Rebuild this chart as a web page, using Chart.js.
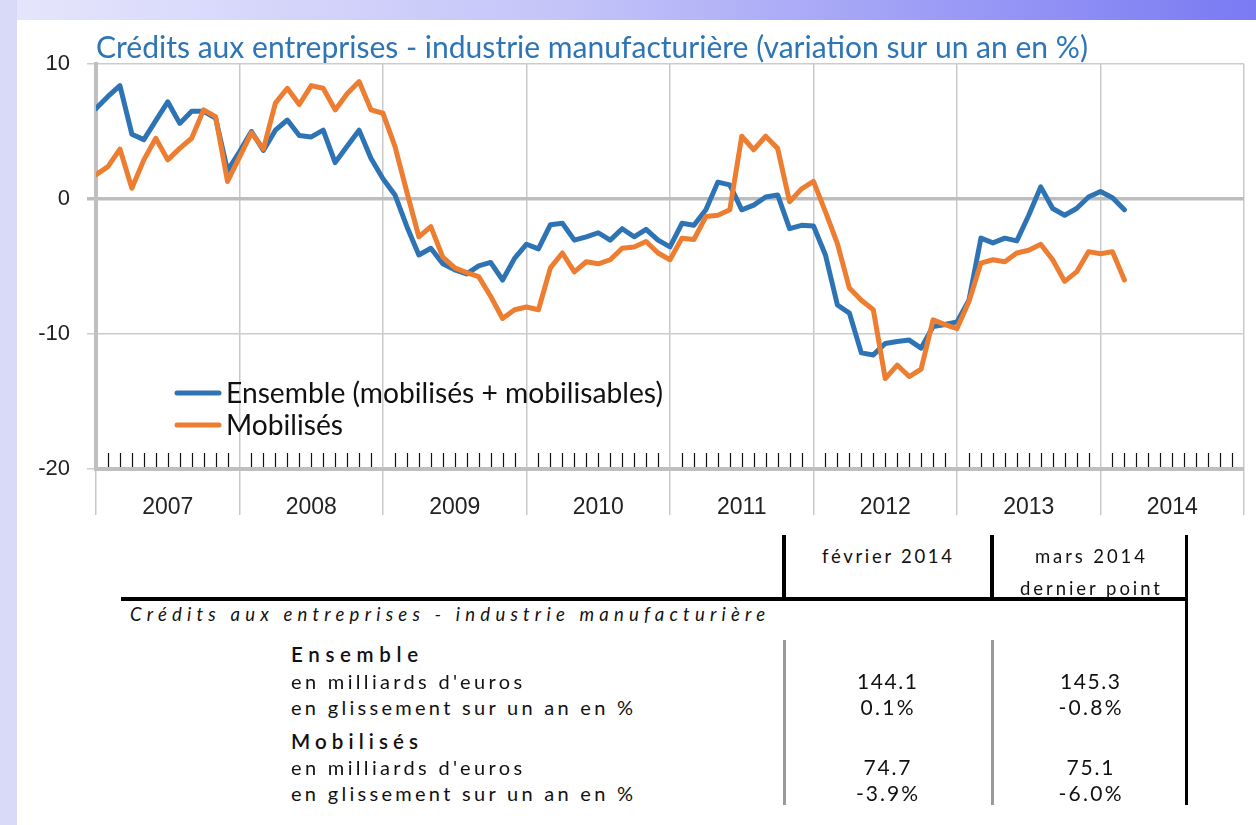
<!DOCTYPE html>
<html><head><meta charset="utf-8">
<script src="https://cdn.jsdelivr.net/npm/chart.js@4.4.1/dist/chart.umd.min.js"></script>
<style>
html,body{margin:0;padding:0;background:#fff;width:1256px;height:825px;overflow:hidden;position:relative;}
#topband{position:absolute;left:0;top:0;width:1256px;height:20px;background:linear-gradient(90deg,#e6e6fc 0%,#c4c4f9 45%,#7a7af3 100%);}
#leftband{position:absolute;left:0;top:0;width:17px;height:825px;background:#d9d9f8;}
#c{position:absolute;left:0;top:0;}
.t{position:absolute;white-space:nowrap;font-family:Lato,"Open Sans",sans-serif;color:#111;line-height:22px;height:22px;}
.ln{position:absolute;}
</style></head><body>
<div id="topband"></div><div id="leftband"></div>
<canvas id="c" width="1256" height="540"></canvas>
<div id="tbl"></div>
<script>
// ---------- data ----------
const chartTitle = "Crédits aux entreprises - industrie manufacturière (variation sur un an en %)";
const years = ["2007","2008","2009","2010","2011","2012","2013","2014"];
const seriesNames = ["Ensemble (mobilisés + mobilisables)", "Mobilisés"];
// monthly values, Jan 2007 .. Mar 2014
const ensemble = [
 6.7, 7.6, 8.4, 4.8, 4.4, 5.8, 7.2, 5.6, 6.5, 6.5, 6.0, 2.1,
 3.5, 5.0, 3.6, 5.1, 5.85, 4.7, 4.6, 5.1, 2.7, 3.9, 5.1, 3.0,
 1.5, 0.3, -2.05, -4.15, -3.65, -4.8, -5.25, -5.55, -4.95, -4.7, -6.0, -4.4,
 -3.35, -3.7, -1.9, -1.8, -3.05, -2.8, -2.5, -3.05, -2.2, -2.8, -2.25, -3.05,
 -3.55, -1.8, -1.95, -0.8, 1.25, 1.05, -0.8, -0.45, 0.15, 0.3, -2.2, -1.95,
 -2.0, -4.15, -7.85, -8.45, -11.4, -11.55, -10.7, -10.55, -10.45, -11.05, -9.45, -9.3,
 -9.1, -7.5, -2.9, -3.25, -2.9, -3.1, -1.2, 0.9, -0.7, -1.2, -0.7, 0.15,
 0.55, 0.1, -0.8
];
const mobilises = [
 1.8, 2.4, 3.7, 0.8, 2.9, 4.5, 2.9, 3.75, 4.5, 6.6, 6.1, 1.3,
 3.1, 4.9, 3.7, 7.1, 8.2, 7.0, 8.4, 8.2, 6.6, 7.8, 8.7, 6.6,
 6.35, 3.9, 0.5, -2.8, -2.05, -4.3, -5.1, -5.45, -5.75, -7.2, -8.85, -8.2,
 -8.0, -8.2, -5.1, -4.0, -5.4, -4.65, -4.8, -4.5, -3.65, -3.55, -3.15, -4.0,
 -4.5, -2.9, -3.0, -1.3, -1.2, -0.8, 4.65, 3.65, 4.65, 3.75, -0.2, 0.75,
 1.3, -0.95, -3.3, -6.6, -7.5, -8.2, -13.3, -12.3, -13.15, -12.6, -8.95, -9.3,
 -9.6, -7.6, -4.75, -4.5, -4.65, -4.0, -3.8, -3.35, -4.5, -6.1, -5.4, -3.9,
 -4.05, -3.9, -6.0
];
const yMin = -20, yMax = 10, yStep = 10;
const monthsShown = 96; // 8 years on the axis

// table
const tableTitle = "Crédits aux entreprises - industrie manufacturière";
const colHeaders = ["février 2014", "mars 2014", "dernier point"];
const rowLabels = ["Ensemble", "en milliards d'euros", "en glissement sur un an en %", "Mobilisés", "en milliards d'euros", "en glissement sur un an en %"];
const febValues = ["", "144.1", "0.1%", "", "74.7", "-3.9%"];
const marValues = ["", "145.3", "-0.8%", "", "75.1", "-6.0%"];

// ---------- chart ----------
const BLUE = '#2E74B5', ORANGE = '#ED7D31';
const axisFont = '"Liberation Sans", Arial, sans-serif';

const minorTicks = {
  id: 'minorTicks',
  beforeDatasetsDraw(chart) {
    const x = chart.scales.x, y = chart.scales.y, ctx = chart.ctx;
    const yb = y.getPixelForValue(yMin);
    ctx.save();
    ctx.strokeStyle = '#111'; ctx.lineWidth = 1.2;
    for (let m = 1; m < monthsShown; m++) {
      if (m % 12 === 0) continue;
      const px = Math.round(x.getPixelForValue(m)) + 0.5;
      ctx.beginPath(); ctx.moveTo(px, yb - 2); ctx.lineTo(px, yb - 16); ctx.stroke();
    }
    ctx.restore();
  }
};

const textDeco = {
  id: 'textDeco',
  afterDraw(chart) {
    const ctx = chart.ctx, area = chart.chartArea;
    ctx.save();
    // title
    ctx.font = '24px Lato';
    let w = ctx.measureText(chartTitle).width;
    let size = 24 * 992 / w;
    ctx.font = size.toFixed(2) + 'px Lato';
    ctx.fillStyle = '#2E75B6';
    ctx.textBaseline = 'middle'; ctx.textAlign = 'left';
    ctx.fillText(chartTitle, area.left, 48);
    // legend
    ctx.font = '23px Lato';
    w = ctx.measureText(seriesNames[0]).width;
    size = 23 * 437 / w;
    ctx.font = size.toFixed(2) + 'px Lato';
    const rows = [393, 425];
    chart.data.datasets.forEach((ds, i) => {
      const yy = rows[i];
      ctx.strokeStyle = ds.borderColor; ctx.lineWidth = 5; ctx.lineCap = 'round';
      ctx.beginPath(); ctx.moveTo(177, yy); ctx.lineTo(219, yy); ctx.stroke();
      ctx.fillStyle = '#111';
      ctx.fillText(ds.label, 226, yy + 1);
    });
    ctx.restore();
  }
};

new Chart(document.getElementById('c'), {
  type: 'line',
  data: {
    datasets: [
      { label: seriesNames[0], data: ensemble.map((v, i) => ({ x: i, y: v })), borderColor: BLUE, borderWidth: 5,
        pointRadius: 0, tension: 0, borderJoinStyle: 'round', borderCapStyle: 'round', fill: false, order: 1 },
      { label: seriesNames[1], data: mobilises.map((v, i) => ({ x: i, y: v })), borderColor: ORANGE, borderWidth: 5,
        pointRadius: 0, tension: 0, borderJoinStyle: 'round', borderCapStyle: 'round', fill: false, order: 0 }
    ]
  },
  options: {
    responsive: false, animation: false, devicePixelRatio: 1,
    layout: { padding: { top: 64, right: 12, left: 0, bottom: 0 } },
    plugins: { legend: { display: false }, tooltip: { enabled: false }, title: { display: false } },
    scales: {
      x: { type: 'linear', min: 0, max: monthsShown, display: false },
      years: {
        type: 'category', labels: years, offset: true, position: 'bottom',
        grid: { offset: true, color: '#c9c9c9', lineWidth: 1.5, drawOnChartArea: true, drawTicks: true, tickLength: 46, tickColor: '#c9c9c9' },
        border: { display: true, color: '#bfbfbf', width: 4 },
        ticks: { font: { family: axisFont, size: 23 }, color: '#222', padding: -21, maxRotation: 0, autoSkip: false },
        afterFit(s) { s.height = 71; }
      },
      y: {
        min: yMin, max: yMax,
        ticks: { stepSize: yStep, font: { family: axisFont, size: 22 }, color: '#222', padding: 17 },
        grid: {
          color: c => (c.tick && c.tick.value === 0) ? '#bdbdbd' : '#cccccc',
          lineWidth: c => (c.tick && c.tick.value === 0) ? 3.5 : 1.5,
          tickLength: 9, drawTicks: true
        },
        border: { display: true, color: '#bfbfbf', width: 4 },
        afterFit(s) { s.width = 96; }
      }
    }
  },
  plugins: [minorTicks, textDeco]
});

// ---------- table ----------
const tbl = document.getElementById('tbl');
function line(x, y, w, h, color) {
  const d = document.createElement('div'); d.className = 'ln';
  Object.assign(d.style, { left: x + 'px', top: y + 'px', width: w + 'px', height: h + 'px', background: color });
  tbl.appendChild(d);
}
function text(str, opt) {
  const s = document.createElement('span'); s.className = 't'; s.textContent = str;
  s.style.fontSize = opt.size + 'px';
  if (opt.italic) s.style.fontStyle = 'italic';
  if (opt.weight) s.style.fontWeight = opt.weight;
  tbl.appendChild(s);
  const nat = s.getBoundingClientRect().width;
  const ls = (opt.w - nat) / Math.max(1, str.length - 1);
  s.style.letterSpacing = ls.toFixed(2) + 'px';
  const left = opt.cx !== undefined ? opt.cx - opt.w / 2 : opt.x;
  s.style.left = left + 'px';
  s.style.top = (opt.cy - 11) + 'px';
}
// black frame lines
line(782, 535, 4, 65, '#000');
line(990, 535, 4, 65, '#000');
line(1185, 535, 3, 270, '#000');
line(121, 597, 1067, 4, '#000');
// grey separators
line(783, 640, 3, 165, '#9a9a9a');
line(991, 640, 3, 165, '#9a9a9a');

text(colHeaders[0], { cx: 887, cy: 556, w: 130, size: 18.5 });
text(colHeaders[1], { cx: 1090, cy: 556, w: 110, size: 18.5 });
text(colHeaders[2], { cx: 1090, cy: 588, w: 140, size: 18.5 });
text(tableTitle, { x: 130, cy: 614, w: 635, size: 18.5, italic: true });

const rowY = [654, 681, 707, 741, 767, 793];
const labelW = [127, 231, 342, 127, 231, 342];
const febW = { "144.1": 60, "0.1%": 53, "74.7": 47, "-3.9%": 62 };
const marW = { "145.3": 60, "-0.8%": 63, "75.1": 47, "-6.0%": 63 };
rowLabels.forEach((lab, i) => {
  const bold = (i === 0 || i === 3);
  text(lab, { x: 291, cy: rowY[i], w: labelW[i], size: bold ? 20.5 : 20, weight: bold ? 600 : 400 });
  if (febValues[i]) text(febValues[i], { cx: 887, cy: rowY[i], w: febW[febValues[i]] || 55, size: 21 });
  if (marValues[i]) text(marValues[i], { cx: 1090, cy: rowY[i], w: marW[marValues[i]] || 55, size: 21 });
});
</script>
</body></html>
